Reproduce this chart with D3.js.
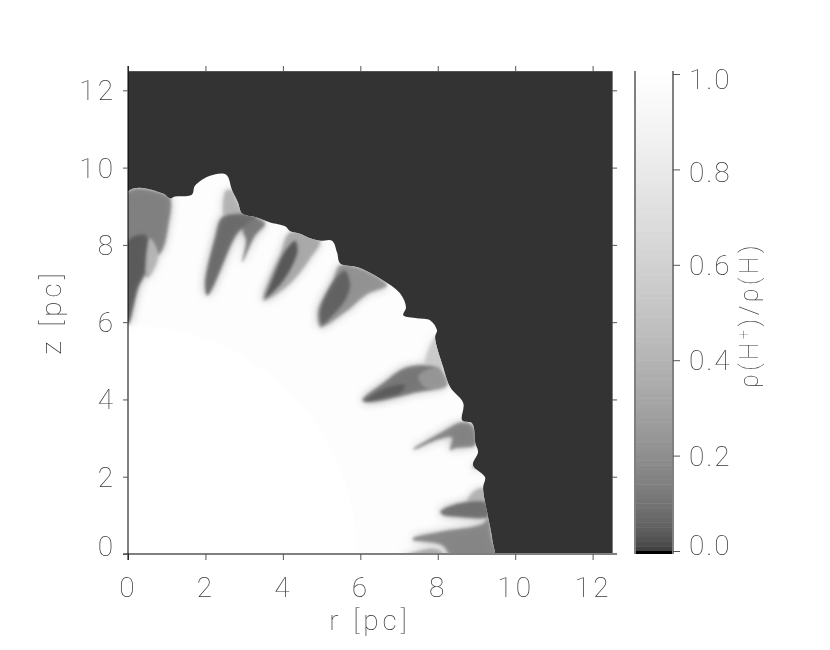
<!DOCTYPE html>
<head>
  <meta charset="utf-8">
  <script src="https://d3js.org/d3.v7.min.js"></script>
  <title>Ionisation fraction</title>
  <style>
    body { margin: 0; background: #fff; }
    svg { display: block; }
    text { font-family: 'Roboto', sans-serif; font-weight: 100; fill: #333; opacity: 0.99; }
    .tick text { font-size: 28px; letter-spacing: 3px; }
    .label { font-size: 28px; letter-spacing: 4px; }
  </style>
</head>
<body>
<svg width="830" height="650"></svg>
<script>

var axisTicks = [0, 2, 4, 6, 8, 10, 12];
var barTicks = [0, 0.2, 0.4, 0.6, 0.8, 1];

// ionisation front, [r, z] in pc
var shellOutline = [[0,9.38],[.90,9.33],[1.09,9.20],[1.21,9.25],[1.65,9.30],[1.73,9.53],[2.12,9.79],[2.53,9.82],
  [2.69,9.41],[2.84,9.10],[2.95,8.81],[3.33,8.71],[3.67,8.58],[4.06,8.48],[4.19,8.35],[4.44,8.29],[4.70,8.17],
  [4.96,8.11],[5.27,8.11],[5.40,7.80],[5.48,7.52],[5.94,7.42],[6.51,7.13],[7.03,6.74],[7.18,6.38],[7.11,6.18],
  [7.47,6.10],[7.80,6.05],[7.98,5.79],[7.93,5.61],[8.14,4.83],[8.32,4.32],[8.66,3.90],[8.63,3.46],[8.89,3.38],
  [8.97,2.87],[9.04,2.64],[8.91,2.30],[9.22,1.99],[9.17,1.71],[9.30,.96],[9.41,.36],[9.41,-.2],[0,-.2]];
var shellValue = 0.985;
var coreRadius = 5.9;

// neutral shadows behind the clumps
var shadowPoints = [
  [[0,9.38],[.90,9.33],[1.09,9.20],[1.03,8.45],[.90,7.90],[.70,7.60],[.52,7.16],[.41,7.21],[.26,6.90],[.13,6.38],[.03,5.97],[0,5.95]],
  [[0,8.11],[.47,8.24],[.47,7.6],[.41,7.21],[.26,6.90],[.13,6.38],[.03,5.97],[0,5.95]],
  [[.57,8.17],[.78,7.73],[.57,7.21],[.49,7.18]],
  [[2.53,9.41],[2.69,9.41],[2.84,9.10],[2.95,8.81],[2.51,8.71]],
  [[2.04,6.69],[1.99,7.00],[2.25,8.19],[2.43,8.71],[2.95,8.81],[3.33,8.71],[2.89,8.37],[2.71,8.11],[2.38,7.34],[2.12,6.77]],
  [[2.97,8.42],[3.33,8.68],[3.54,8.55],[3.28,8.24],[2.95,7.55],[3.05,8.11]],
  [[4.19,8.32],[4.96,8.11],[4.70,7.65],[4.26,7.08],[3.85,6.74],[3.49,6.56],[3.67,7.16],[3.93,7.73]],
  [[3.54,6.61],[3.72,7.13],[4.06,7.86],[4.32,8.11],[4.39,7.86],[4.19,7.34],[3.85,6.87]],
  [[4.96,5.87],[4.91,6.30],[5.30,7.08],[5.48,7.47],[5.94,7.42],[6.51,7.13],[6.69,6.95],[6.20,6.74],[5.66,6.30],[5.01,5.87]],
  [[5.01,5.92],[4.96,6.30],[5.35,7.13],[5.61,7.34],[5.74,6.95],[5.61,6.56],[5.22,6.10]],
  [[7.98,5.66],[8.14,4.83],[7.67,4.83]],
  [[6.05,3.98],[6.59,4.42],[7.21,4.83],[8.01,4.83],[8.14,4.68],[8.24,4.37],[7.47,4.19],[6.59,3.98],[6.18,3.93]],
  [[6.10,3.95],[6.64,4.29],[7.16,4.37],[7.03,4.16],[6.59,4.03]],
  [[7.5,4.6],[8.01,4.83],[8.14,4.68],[8.24,4.37],[7.7,4.3]],
  [[7.36,2.71],[8.06,3.13],[8.63,3.41],[8.89,3.33],[8.97,2.82],[8.71,2.76],[8.45,2.74],[8.32,2.69],[8.37,3.02],[7.98,2.95],[7.42,2.71]],
  [[8.89,2.25],[9.10,2.38],[9.15,2.22]],
  [[8.91,1.60],[9.17,1.71],[9.28,1.32],[8.76,1.32]],
  [[8.06,1.09],[8.40,1.27],[9.28,1.32],[9.30,.96],[9.17,.93],[8.58,.96],[8.14,1.01]],
  [[7.36,.41],[8.06,.57],[9.17,.78],[9.30,.93],[9.41,.36],[9.6,-.2],[8.45,-.2],[8.11,.23],[7.36,.36]],
  [[7.03,-.1],[7.93,.13],[8.24,-.1]]
];
var shadowValues = [.11, .02, .38, .36, .05, .09, .3, .015, .18, .03, .52, .08, .02, .2, .12, .16, .36, .06, .13, .3];

var svg = d3.select("svg");
var plot = {left: 128, right: 612, top: 71, bottom: 554};

var x = d3.scaleLinear().domain([0, 12.5]).range([plot.left, plot.right]);
var y = d3.scaleLinear().domain([0, 12.5]).range([plot.bottom, plot.top]);
// the image and the bar share a square root stretch
var grey = d3.scaleSqrt().domain([0, 1]).range(["#333333", "#ffffff"]);
var barY = d3.scaleLinear().domain([0, 1]).range([551, 74]);

var line = d3.line()
    .x(function(d) { return x(d[0]); })
    .y(function(d) { return y(d[1]); })
    .curve(d3.curveCatmullRomClosed.alpha(0.5));

var defs = svg.append("defs");
defs.append("clipPath").attr("id", "plot-clip").append("rect")
    .attr("x", plot.left).attr("y", plot.top)
    .attr("width", plot.right - plot.left).attr("height", plot.bottom - plot.top);
defs.append("clipPath").attr("id", "shell-clip").append("path")
    .attr("d", line(shellOutline));
function blurFilter(id, amount) {
  defs.append("filter").attr("id", id)
      .attr("x", "-10%").attr("y", "-10%").attr("width", "120%").attr("height", "120%")
    .append("feGaussianBlur").attr("stdDeviation", amount);
}
blurFilter("halo", 5);
blurFilter("soft", 1.6);
blurFilter("edge", 0.7);

var image = svg.append("g").attr("clip-path", "url(#plot-clip)");

image.append("rect")
    .attr("x", plot.left).attr("y", plot.top)
    .attr("width", plot.right - plot.left).attr("height", plot.bottom - plot.top)
    .attr("fill", grey(0));

image.append("path")
    .attr("d", line(shellOutline))
    .attr("fill", grey(shellValue))
    .attr("filter", "url(#edge)");

image.append("path")
    .attr("transform", "translate(" + x(0) + "," + y(0) + ")")
    .attr("d", d3.arc()({
      innerRadius: 0,
      outerRadius: x(coreRadius) - x(0),
      startAngle: 0,
      endAngle: Math.PI / 2
    }))
    .attr("fill", grey(1));

var shadows = image.append("g").attr("clip-path", "url(#shell-clip)");

function drawShadows(filterId, opacity) {
  shadows.append("g")
      .attr("filter", "url(#" + filterId + ")")
      .attr("opacity", opacity)
    .selectAll("path")
    .data(shadowPoints)
    .enter().append("path")
      .attr("d", line)
      .attr("fill", function(d, i) { return grey(shadowValues[i]); });
}
drawShadows("halo", 0.55);
drawShadows("soft", 0.85);

// axes on all four sides, labels only left and bottom
function styleAxis(g, colour, width) {
  g.selectAll(".domain").attr("stroke", colour).attr("stroke-width", width);
  g.selectAll(".tick line").attr("stroke", "#555");
  g.attr("font-family", null).attr("font-size", null);
}

svg.append("g")
    .attr("transform", "translate(0," + plot.top + ")")
    .call(d3.axisTop(x).tickValues(axisTicks).tickSize(5).tickSizeOuter(0).tickFormat(""))
    .call(styleAxis, "#555", 1);

svg.append("g")
    .attr("transform", "translate(" + plot.right + ",0)")
    .call(d3.axisRight(y).tickValues(axisTicks).tickSize(5).tickSizeOuter(0).tickFormat(""))
    .call(styleAxis, "#808080", 1);

var bottomAxis = svg.append("g")
    .attr("transform", "translate(0," + plot.bottom + ")")
    .call(d3.axisBottom(x).tickValues(axisTicks).tickSize(6).tickSizeOuter(0).tickPadding(17))
    .call(styleAxis, "#808080", 2);
bottomAxis.select(".domain").attr("d", "M" + (plot.left - 5) + ",0H" + (plot.right + 5));

var leftAxis = svg.append("g")
    .attr("transform", "translate(" + plot.left + ",0)")
    .call(d3.axisLeft(y).tickValues(axisTicks).tickSize(5).tickSizeOuter(0).tickPadding(7))
    .call(styleAxis, "#000", 1);
leftAxis.select(".domain").attr("d", "M0," + (plot.top - 5) + "V" + (plot.bottom + 6));
leftAxis.selectAll(".tick text").attr("dy", function(d) { return d === 0 ? "0.04em" : "0.34em"; });

svg.append("text").attr("class", "label")
    .attr("x", x(6.25)).attr("y", 630).attr("text-anchor", "middle")
    .text("r [pc]");

svg.append("text").attr("class", "label")
    .attr("transform", "translate(61,312) rotate(-90)").attr("text-anchor", "middle")
    .text("z [pc]");

// colour bar
var barLeft = 635, barRight = 673;
var barSteps = d3.range(0, 1, 0.01);

svg.append("g").selectAll("rect")
  .data(barSteps)
  .enter().append("rect")
    .attr("x", barLeft)
    .attr("width", barRight - barLeft)
    .attr("y", function(d) { return barY(d + 0.01); })
    .attr("height", barY(0) - barY(0.01) + 0.5)
    .attr("fill", function(d) { return grey(d + 0.005); });

svg.append("rect")
    .attr("x", barLeft).attr("y", plot.top)
    .attr("width", barRight - barLeft).attr("height", barY(1) - plot.top)
    .attr("fill", "#fff");

svg.append("rect")
    .attr("x", barLeft).attr("y", barY(0))
    .attr("width", barRight - barLeft).attr("height", plot.bottom - barY(0))
    .attr("fill", "#000");

svg.append("line")
    .attr("x1", barLeft).attr("x2", barLeft)
    .attr("y1", plot.top).attr("y2", plot.bottom)
    .attr("stroke", "#808080").attr("stroke-width", 2);

var barAxis = svg.append("g")
    .attr("transform", "translate(" + barRight + ",0)")
    .call(d3.axisRight(barY).tickValues(barTicks).tickSize(7).tickSizeOuter(0).tickPadding(9)
      .tickFormat(d3.format(".1f")))
    .call(styleAxis, "#808080", 2);
barAxis.select(".domain").attr("d", "M0," + plot.top + "V" + plot.bottom);
barAxis.selectAll(".tick text").style("letter-spacing", "2px").attr("dy", function(d) {
  if (d === 0) return "0.12em";
  if (d === 1) return "0.52em";
  if (d === 0.8) return "0.44em";
  return "0.34em";
});

var barLabel = svg.append("text").attr("class", "label")
    .attr("transform", "translate(758,315) rotate(-90)")
    .attr("text-anchor", "middle")
    .style("font-size", "25px").style("letter-spacing", "3.5px");
barLabel.append("tspan").text("\u03c1(H");
barLabel.append("tspan").attr("dy", -9).style("font-size", "16px").text("+");
barLabel.append("tspan").attr("dy", 9).text(")/\u03c1(H)");

</script>
</body>
